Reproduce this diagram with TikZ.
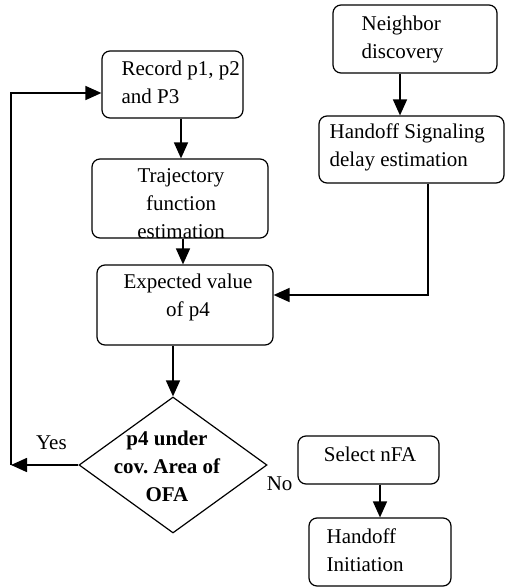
\documentclass[tikz,border=0pt]{standalone}
\usepackage{fontspec}
\setmainfont{Liberation Serif}
\usetikzlibrary{shapes.geometric,arrows.meta}

\tikzset{
  box/.style={draw, rounded corners=8pt, line width=1.2pt, inner sep=0pt},
  decision/.style={draw, diamond, line width=1.2pt, inner sep=0pt},
  txt/.style={inner sep=0pt, font=\fontsize{21}{28}\selectfont},
  arr/.style={line width=1.6pt, -{Triangle[length=16pt,width=14pt]}},
}

\begin{document}
\begin{tikzpicture}[x=1pt, y=1pt]
    \useasboundingbox (0,0) rectangle (505,-587);

    % left column
    \node[box, minimum width=141pt, minimum height=67pt] (rec) at (172.5,-84.5) {};
    \node[txt, anchor=west, align=left] (recT) at ([xshift=20pt,yshift=2pt]rec.west) {Record p1, p2\\and P3};
    \node[box, minimum width=176pt, minimum height=79pt] (traj) at (180,-198.5) {};
    \node[txt, align=center] (trajT) at ([xshift=1pt,yshift=-5.5pt]traj.center) {Trajectory\\function\\estimation};
    \node[box, minimum width=176pt, minimum height=80pt] (exp) at (185,-305) {};
    \node[txt, align=center] (expT) at ([xshift=3pt,yshift=8pt]exp.center) {Expected value\\of p4};
    \node[decision, minimum width=188pt, minimum height=136pt] (dia) at (173,-465) {};
    \node[txt, align=center, font=\fontsize{21}{28}\selectfont\bfseries] (diaT) at ([xshift=-6pt,yshift=-1pt]dia.center) {p4 under\\cov.\ Area of\\OFA};

    % right column
    \node[box, minimum width=164pt, minimum height=68pt] (nb) at (415,-39) {};
    \node[txt, anchor=west, align=left] (nbT) at ([xshift=29pt]nb.west) {Neighbor\\discovery};
    \node[box, minimum width=185pt, minimum height=67pt] (hs) at (411.5,-149.5) {};
    \node[txt, anchor=west, align=left] (hsT) at ([xshift=11pt,yshift=2pt]hs.west) {Handoff Signaling\\delay estimation};
    \node[box, minimum width=141pt, minimum height=48pt] (sel) at (368.5,-460) {};
    \node[txt] (selT) at ([xshift=1.5pt,yshift=6pt]sel.center) {Select nFA};
    \node[box, minimum width=142pt, minimum height=68pt] (hi) at (380,-552) {};
    \node[txt, anchor=west, align=left] (hiT) at ([xshift=18pt,yshift=2pt]hi.west) {Handoff\\Initiation};

    % labels
    \node[txt] (yesL) at ([xshift=-27pt,yshift=22pt]dia.west) {Yes};
    \node[txt] (noL) at ([xshift=12pt,yshift=-19pt]dia.east) {No};

    % connectors
    \coordinate (back) at (11,-465);
    \draw[arr] ([xshift=1pt]traj.north |- rec.south) -- ([xshift=1pt]traj.north);
    \draw[arr] ([xshift=3pt]traj.south) -- ([xshift=-2pt]exp.north);
    \draw[arr] (dia.north |- exp.south) -- (dia.north);
    \draw[arr] (dia.west) -- (back);
    \draw[arr] (back) |- ([yshift=-8.5pt]rec.west);
    \draw[arr] ([xshift=-15pt]nb.south) -- ([xshift=-11.5pt]hs.north);
    \draw[arr] ([xshift=16.5pt]hs.south) |- ([yshift=10pt]exp.east);
    \draw[arr] (hi.north |- sel.south) -- (hi.north);
\end{tikzpicture}
\end{document}
